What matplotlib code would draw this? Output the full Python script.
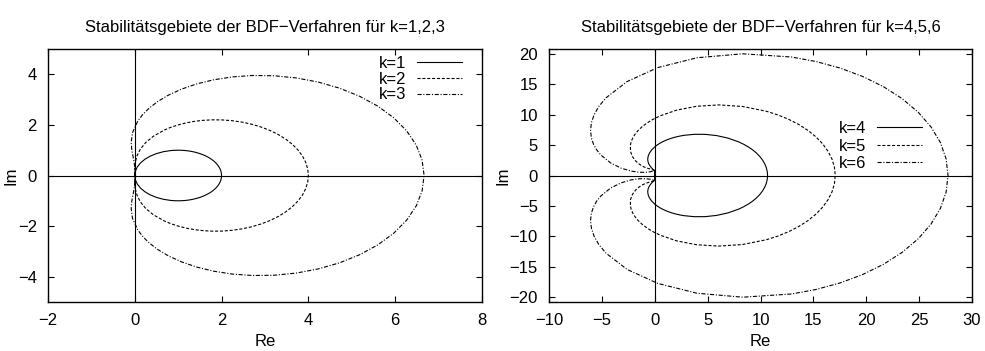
import matplotlib
matplotlib.use("Agg")
import matplotlib.pyplot as plt

plt.rcParams['font.family'] = ['Liberation Sans', 'DejaVu Sans']
plt.rcParams['lines.scale_dashes'] = False

# boundary loci of the BDF methods, upper half (Im >= 0)
re_k1 = [0, 0.015, 0.060, 0.134, 0.234, 0.357, 0.5, 0.658, 0.826, 0.913, 1.0, 1.087, 1.174, 1.259, 1.342,
         1.423, 1.5, 1.574, 1.643, 1.707, 1.766, 1.819, 1.866, 1.906, 1.940, 1.966, 1.985, 1.996, 2.0]
im_k1 = [0, 0.174, 0.342, 0.5, 0.643, 0.766, 0.866, 0.940, 0.985, 0.996, 1.0, 0.996, 0.985, 0.966, 0.940,
         0.906, 0.866, 0.819, 0.766, 0.707, 0.643, 0.574, 0.5, 0.423, 0.342, 0.259, 0.174, 0.087, 0]

re_k2 = [0, 0.000, 0.004, 0.018, 0.055, 0.128, 0.25, 0.433, 0.683, 0.833, 1.0, 1.182, 1.377, 1.585, 1.801,
         2.024, 2.25, 2.476, 2.699, 2.914, 3.119, 3.309, 3.482, 3.634, 3.762, 3.865, 3.939, 3.985, 4.0]
im_k2 = [0, 0.176, 0.363, 0.567, 0.793, 1.040, 1.299, 1.558, 1.799, 1.906, 2.0, 2.079, 2.141, 2.182, 2.201,
         2.196, 2.165, 2.108, 2.024, 1.914, 1.778, 1.617, 1.433, 1.228, 1.005, 0.768, 0.518, 0.261, 0]

re_k3 = [0, -0.000, -0.003, -0.015, -0.038, -0.067, -0.083, -0.053, 0.070, 0.181, 0.333, 0.531, 0.778, 1.075,
         1.422, 1.815, 2.25, 2.719, 3.213, 3.719, 4.225, 4.718, 5.181, 5.603, 5.968, 6.266, 6.486, 6.621, 6.667]
im_k3 = [0, 0.175, 0.351, 0.534, 0.740, 0.988, 1.299, 1.688, 2.153, 2.406, 2.667, 2.927, 3.179, 3.412, 3.617,
         3.782, 3.897, 3.953, 3.942, 3.857, 3.694, 3.452, 3.132, 2.739, 2.279, 1.762, 1.201, 0.608, 0]

re_k4 = [0, -0.000, -0.001, -0.006, -0.028, -0.089, -0.208, -0.385, -0.572, -0.640, -0.667, -0.633, -0.516,
         -0.297, 0.042, 0.261, 0.514, 0.802, 1.125, 1.482, 1.872, 2.294, 2.744, 3.719, 4.767, 5.849, 6.922,
         7.939, 8.410, 8.850, 9.253, 9.613, 9.926, 10.188, 10.395, 10.545, 10.636, 10.667]
im_k4 = [0, 0.175, 0.348, 0.519, 0.686, 0.862, 1.083, 1.410, 1.919, 2.261, 2.667, 3.132, 3.650, 4.204, 4.774,
         5.057, 5.332, 5.597, 5.846, 6.075, 6.280, 6.456, 6.600, 6.771, 6.766, 6.562, 6.148, 5.523, 5.134,
         4.697, 4.216, 3.695, 3.137, 2.548, 1.934, 1.300, 0.653, 0]

re_k5 = [0, 0.000, 0.000, 0.001, 0.001, -0.018, -0.108, -0.350, -0.812, -1.124, -1.467, -1.808, -2.103,
         -2.292, -2.309, -2.234, -2.090, -1.873, -1.575, -1.191, -0.719, -0.155, 0.499, 2.070, 3.953, 6.070,
         8.315, 10.560, 11.637, 12.661, 13.613, 14.477, 15.237, 15.879, 16.391, 16.764, 16.991, 17.067]
im_k5 = [0, 0.175, 0.349, 0.521, 0.681, 0.812, 0.909, 1.014, 1.259, 1.502, 1.867, 2.383, 3.072, 3.942, 4.980,
         5.553, 6.153, 6.774, 7.405, 8.035, 8.654, 9.249, 9.806, 10.751, 11.384, 11.607, 11.346, 10.558,
         9.963, 9.239, 8.390, 7.427, 6.359, 5.202, 3.969, 2.679, 1.349, 0]

re_k6 = [0, 0.000, 0.000, 0.001, 0.010, 0.034, 0.058, -0.021, -0.436, -0.861, -1.467, -2.252, -3.181,
         -4.172, -5.100, -5.490, -5.799, -6.002, -6.075, -5.994, -5.737, -5.284, -4.620, -2.620, 0.280,
         3.992, 8.315, 12.950, 15.271, 17.526, 19.666, 21.640, 23.402, 24.907, 26.120, 27.009, 27.551, 27.733]
im_k6 = [0, 0.175, 0.349, 0.524, 0.696, 0.843, 0.909, 0.824, 0.608, 0.522, 0.533, 0.728, 1.206, 2.061,
         3.369, 4.204, 5.160, 6.230, 7.405, 8.668, 9.999, 11.373, 12.761, 15.442, 17.744, 19.360, 20.010,
         19.480, 18.735, 17.666, 16.279, 14.590, 12.625, 10.414, 7.999, 5.424, 2.740, 0]

labels_left = ["k=1", "k=2", "k=3"]
labels_right = ["k=4", "k=5", "k=6"]

styles = [dict(linestyle="-"),
          dict(dashes=(2.2, 1.3)),
          dict(dashes=(3.0, 1.2, 0.8, 1.2))]


def closed(re, im):
    # mirror the upper half to get the full closed curve
    x = list(re) + list(re[-2::-1])
    y = list(im) + [-v for v in im[-2::-1]]
    return x, y


fig = plt.figure(figsize=(9.85, 3.51), dpi=100)
ax1 = fig.add_axes([0.0487, 0.1396, 0.4406, 0.7208])
ax2 = fig.add_axes([0.5574, 0.1396, 0.4294, 0.7208])

fs = 12


def setup(ax, title, xlim, ylim, xticks, yticks, ylab_x):
    ax.axhline(0, color="black", lw=0.8, zorder=1)
    ax.axvline(0, color="black", lw=0.8, zorder=1)
    ax.set_xlim(*xlim)
    ax.set_ylim(*ylim)
    ax.set_xticks(xticks)
    ax.set_yticks(yticks)
    ax.tick_params(direction="in", length=4, width=0.8, top=True, right=True,
                   labelsize=fs, pad=8)
    for s in ax.spines.values():
        s.set_linewidth(1.0)
    ax.set_title(title, fontsize=fs, pad=12)
    ax.set_xlabel("Re", fontsize=fs)
    ax.set_ylabel("Im", fontsize=fs)
    ax.xaxis.set_label_coords(0.5, -0.125)
    ax.yaxis.set_label_coords(ylab_x, 0.5)


for re, im, lab, st in zip([re_k1, re_k2, re_k3], [im_k1, im_k2, im_k3], labels_left, styles):
    x, y = closed(re, im)
    ax1.plot(x, y, color="black", lw=0.8, label=lab, **st)

for re, im, lab, st in zip([re_k4, re_k5, re_k6], [im_k4, im_k5, im_k6], labels_right, styles):
    x, y = closed(re, im)
    ax2.plot(x, y, color="black", lw=0.8, label=lab, **st)

setup(ax1, "Stabilitätsgebiete der BDF\u2212Verfahren für k=1,2,3", (-2, 8), (-5, 5),
      range(-2, 9, 2), range(-4, 5, 2), -0.069)
setup(ax2, "Stabilitätsgebiete der BDF\u2212Verfahren für k=4,5,6", (-10, 30), (-20.8, 20.8),
      range(-10, 31, 5), range(-20, 21, 5), -0.092)

leg_kw = dict(frameon=False, markerfirst=False, fontsize=fs, handlelength=2.7,
              handletextpad=0.6, borderpad=0, borderaxespad=0)
ax1.legend(loc="upper right", bbox_to_anchor=(0.953, 0.973), labelspacing=0.05, **leg_kw)
ax2.legend(loc="upper right", bbox_to_anchor=(0.881, 0.715), labelspacing=0.15, **leg_kw)

fig.savefig("out.png", dpi=100)
